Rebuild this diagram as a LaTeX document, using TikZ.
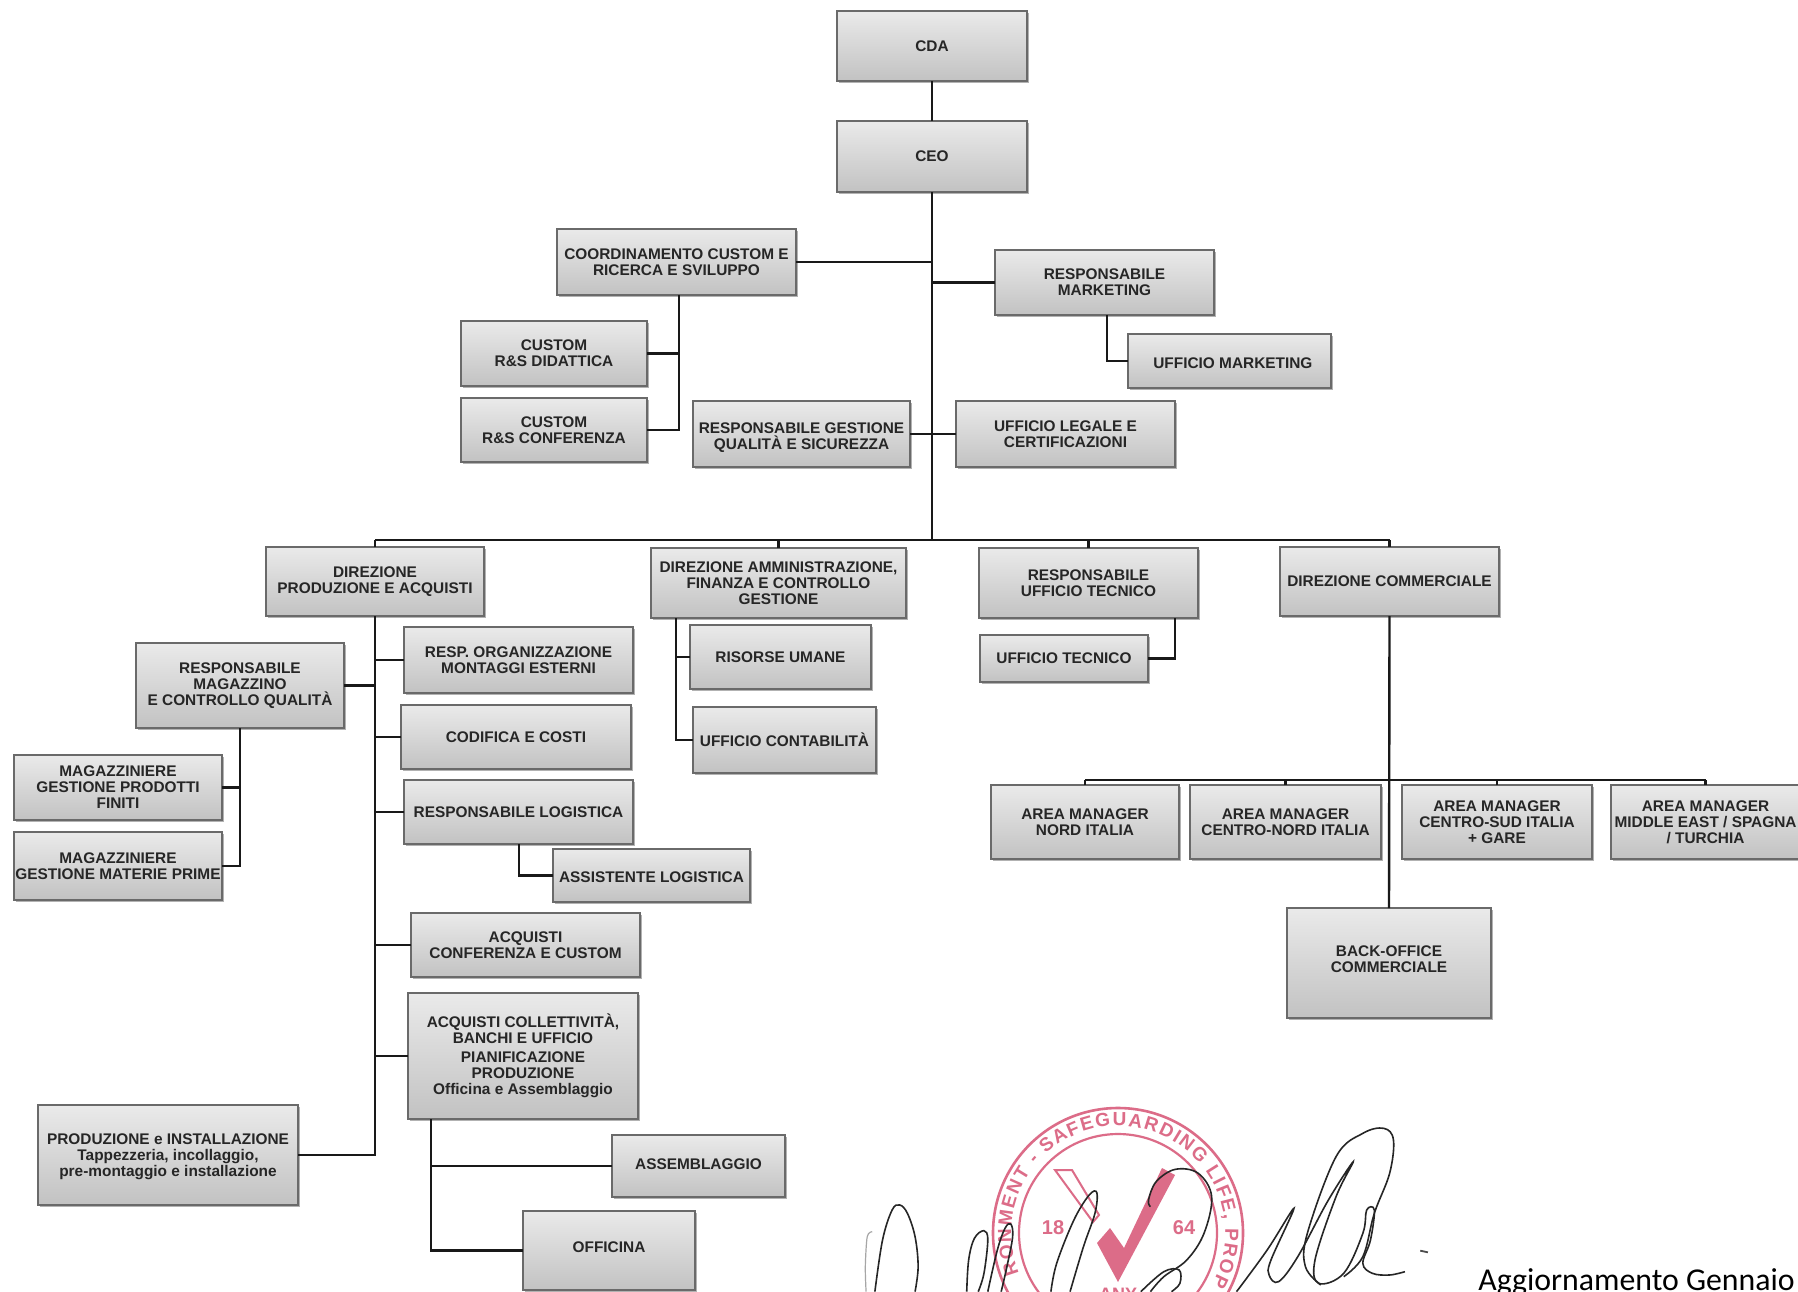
\documentclass[tikz,border=0pt]{standalone}
\usepackage{fontspec}
\setmainfont{Liberation Sans}
\newfontfamily\noteface{Carlito}
\usetikzlibrary{shadows,decorations.text,calc}
\definecolor{edgec}{HTML}{6A6A6A}
\definecolor{topc}{HTML}{EAEAEA}
\definecolor{botc}{HTML}{C2C2C2}
\definecolor{inkc}{HTML}{262626}
\definecolor{sealc}{HTML}{DC6C88}
\tikzset{
  orgbox/.style={draw=edgec,line width=1pt,top color=topc,bottom color=botc,inner sep=0pt,outer sep=0pt,
    align=center,text=inkc,font=\bfseries\fontsize{7.7}{8}\selectfont,
    drop shadow={shadow xshift=0.8pt,shadow yshift=-0.8pt,fill=black,opacity=.3}},
  link/.style={line width=1.2pt,draw=black!90},
  sign/.style={line width=0.8pt,draw=black!85,smooth,tension=0.6},
}
\newcommand{\bx}[6]{%
  \pgfmathsetmacro{\cxv}{(#2+#4)/2}\pgfmathsetmacro{\cyv}{(#3+#5)/2}%
  \pgfmathsetmacro{\wv}{(#4-#2)*0.5}\pgfmathsetmacro{\hv}{(#5-#3)*0.5}%
  \node[orgbox,minimum width=\wv pt,minimum height=\hv pt] (#1) at (\cxv,\cyv) {#6};}
\newcommand{\txtup}[1]{\rule[-#1pt]{0pt}{#1pt}}
\newcommand{\txtdn}[1]{\rule{0pt}{\dimexpr5.55pt+#1pt\relax}}
\begin{document}
\begin{tikzpicture}[x=0.5pt,y=-0.5pt]
\useasboundingbox (0,0) rectangle (1798,1291);
\clip (0,0) rectangle (1798,1291);
\fill[white] (0,0) rectangle (1798,1291);

% seal
\begin{scope}
\draw[sealc,line width=1.3pt] (1118,1233) circle [radius=125];
\draw[sealc,line width=1.1pt] (1118,1233) circle [radius=99];
\fill[sealc] (1162,1168) -- (1175,1175) -- (1118,1282) -- (1097,1243) -- (1110,1228) -- (1124,1248) -- cycle;
\draw[sealc,line width=1pt,fill=white] (1055,1170) -- (1072,1170) -- (1099,1215) -- (1093,1222) -- cycle;
\node[text=sealc,font=\bfseries\fontsize{10}{10}\selectfont] (yra) at (1053,1228) {18};
\node[text=sealc,font=\bfseries\fontsize{10}{10}\selectfont] (yrb) at (1184,1228) {64};
\node[text=sealc,font=\bfseries\fontsize{9}{9}\selectfont] (sealb) at (1118,1294) {ANY};
\path[decorate,decoration={text along path,text align={fit to path},
  text={|\bfseries\fontsize{9.5}{10}\selectfont\color{sealc}|RONMENT - SAFEGUARDING LIFE{,} PROP}}]
  (1019,1273) arc [start angle=-202,end angle=29,radius=107];
\end{scope}

% signature
\begin{scope}[shift={(850,1100)},xscale=0.3827,yscale=0.3333]
\draw[line width=0.6pt,draw=gray!70] plot[smooth] coordinates {(58,395)(45,410)(40,500)(42,575)};
\draw[sign] plot coordinates {(65,575)(85,420)(110,330)(130,315)(150,340)(170,410)(178,500)(170,575)};
\draw[sign] plot coordinates {(305,575)(310,480)(325,415)(350,392)(360,420)(350,520)(335,575)};
\draw[sign] plot coordinates {(360,575)(385,450)(405,385)(420,372)(425,410)(410,500)(395,575)};
\draw[sign] plot coordinates {(525,575)(540,490)(585,360)(625,285)(645,278)(640,340)(610,440)(575,575)};
\draw[sign] plot coordinates {(785,320)(780,300)(800,245)(850,208)(910,220)(945,290)(925,400)(880,480)(820,530)(785,575)};
\draw[sign] plot coordinates {(760,575)(820,515)(860,510)(862,550)(840,575)};
\draw[sign] plot coordinates {(1010,575)(1090,450)(1160,325)(1100,480)(1095,525)(1120,545)(1170,470)(1250,300)(1315,185)(1270,290)(1215,480)(1225,550)(1290,520)(1340,400)(1350,330)(1370,330)(1360,420)(1340,490)(1365,520)(1410,525)(1450,515)};
\draw[sign] plot coordinates {(1230,555)(1190,500)(1195,400)(1270,170)(1340,100)(1395,85)(1420,120)(1410,220)(1370,340)(1340,470)(1290,530)};
\draw[line width=0.9pt,draw=black!70] plot coordinates {(1490,452)(1510,457)};
\end{scope}

\bx{cda}{837}{11}{1027}{81}{CDA}
\bx{ceo}{837}{121}{1027}{192}{CEO}
\bx{coord}{557}{229}{796}{295}{COORDINAMENTO CUSTOM E\\RICERCA E SVILUPPO}
\bx{rmkt}{995}{250}{1214}{315}{RESPONSABILE\\MARKETING}
\bx{umkt}{1128}{334}{1331}{388}{\txtdn{2}\hspace*{3.4pt}UFFICIO MARKETING}
\bx{cdid}{461}{321}{647}{386}{CUSTOM\\R\&S DIDATTICA}
\bx{cconf}{461}{398}{647}{462}{CUSTOM\\R\&S CONFERENZA}
\bx{rqual}{693}{401}{910}{467}{\txtdn{3}RESPONSABILE GESTIONE\\QUALITÀ E SICUREZZA}
\bx{uleg}{956}{401}{1175}{467}{UFFICIO LEGALE E\\CERTIFICAZIONI}
\bx{dprod}{266}{547}{484}{616}{DIREZIONE\\PRODUZIONE E ACQUISTI}
\bx{damm}{651}{548}{906}{618}{DIREZIONE AMMINISTRAZIONE,\\FINANZA E CONTROLLO\\GESTIONE}
\bx{rtec}{979}{548}{1198}{618}{RESPONSABILE\\UFFICIO TECNICO}
\bx{dcomm}{1280}{547}{1499}{616}{DIREZIONE COMMERCIALE}
\bx{risu}{690}{625}{871}{689}{RISORSE UMANE}
\bx{ucont}{693}{707}{876}{773}{UFFICIO CONTABILITÀ}
\bx{utec}{980}{635}{1148}{682}{UFFICIO TECNICO}
\bx{rmag}{136}{643}{344}{728}{RESPONSABILE\\MAGAZZINO\\E CONTROLLO QUALITÀ}
\bx{rorg}{404}{627}{633}{693}{RESP. ORGANIZZAZIONE\\MONTAGGI ESTERNI}
\bx{codif}{401}{705}{631}{769}{CODIFICA E COSTI}
\bx{rlog}{404}{780}{633}{844}{RESPONSABILE LOGISTICA}
\bx{alog}{553}{849}{750}{902}{\txtdn{2}ASSISTENTE LOGISTICA}
\bx{aconf}{411}{913}{640}{977}{ACQUISTI\\CONFERENZA E CUSTOM}
\bx{acoll}{408}{993}{638}{1119}{ACQUISTI COLLETTIVITÀ,\\BANCHI E UFFICIO\\[1.5pt]PIANIFICAZIONE\\PRODUZIONE\\Officina e Assemblaggio}
\bx{mpf}{14}{755}{222}{820}{MAGAZZINIERE\\GESTIONE PRODOTTI\\FINITI}
\bx{mmp}{14}{832}{222}{900}{MAGAZZINIERE\\GESTIONE MATERIE PRIME}
\bx{pinst}{38}{1105}{298}{1205}{\txtdn{2}PRODUZIONE e INSTALLAZIONE\\Tappezzeria, incollaggio,\\pre-montaggio e installazione}
\bx{assem}{612}{1135}{785}{1197}{ASSEMBLAGGIO\txtup{2}}
\bx{offi}{523}{1211}{695}{1290}{OFFICINA\txtup{3}}
\bx{ama}{991}{785}{1179}{859}{AREA MANAGER\\NORD ITALIA}
\bx{amb}{1190}{785}{1381}{859}{AREA MANAGER\\CENTRO-NORD ITALIA}
\bx{amc}{1402}{785}{1592}{859}{AREA MANAGER\\CENTRO-SUD ITALIA\\+ GARE}
\bx{amd}{1611}{785}{1800}{859}{AREA MANAGER\\MIDDLE EAST / SPAGNA\\/ TURCHIA}
\bx{back}{1287}{908}{1491}{1018}{BACK-OFFICE\\COMMERCIALE\txtup{4}}

% helper coordinates for junction lines
\coordinate (bus) at (931,540);
\coordinate (cx) at (679,0);
\coordinate (mx) at (1107,0);
\coordinate (ax) at (676,0);
\coordinate (tx) at (1175,0);
\coordinate (rx) at (240,0);
\coordinate (lx) at (519,0);
\coordinate (ox) at (431,0);
\coordinate (cbus) at (1389,780);

\draw[link] (cda) -- (ceo);
\draw[link] (ceo.south) -- (ceo.south |- bus);
\draw[link] (coord.east) -- (coord.east -| ceo.south);
\draw[link] (rmkt.west) -- (rmkt.west -| ceo.south);
\draw[link] (rqual.east) -- (uleg.west);
\draw[link] (coord.south -| cx) |- (cconf.east);
\draw[link] (cdid.east) -- (cdid.east -| cx);
\draw[link] (rmkt.south -| mx) |- (umkt.west);

\draw[link] (dprod.north |- bus) -- (dcomm.north |- bus);
\draw[link] (dprod.north) -- (dprod.north |- bus);
\draw[link] (damm.north) -- (damm.north |- bus);
\draw[link] (rtec.north) -- (rtec.north |- bus);
\draw[link] (dcomm.north) -- (dcomm.north |- bus);

\draw[link] (dprod.south) |- (pinst.east);
\draw[link] (rmag.east) -- (rmag.east -| dprod.south);
\draw[link] (rorg.west) -- (rorg.west -| dprod.south);
\draw[link] (codif.west) -- (codif.west -| dprod.south);
\draw[link] (rlog.west) -- (rlog.west -| dprod.south);
\draw[link] (aconf.west) -- (aconf.west -| dprod.south);
\draw[link] (acoll.west) -- (acoll.west -| dprod.south);

\draw[link] (damm.south -| ax) |- (ucont.west);
\draw[link] (risu.west) -- (risu.west -| ax);
\draw[link] (rtec.south -| tx) |- (utec.east);

\draw[link] (rmag.south -| rx) |- (mmp.east);
\draw[link] (mpf.east) -- (mpf.east -| rx);
\draw[link] (rlog.south -| lx) |- (alog.west);
\draw[link] (acoll.south -| ox) |- (offi.west);
\draw[link] (assem.west) -- (assem.west -| ox);

\draw[link] (dcomm.south) -- (back.north);
\draw[link] (ama.north |- cbus) -- (amd.north |- cbus);
\draw[link] (ama.north) -- (ama.north |- cbus);
\draw[link] (amb.north) -- (amb.north |- cbus);
\draw[link] (amc.north) -- (amc.north |- cbus);
\draw[link] (amd.north) -- (amd.north |- cbus);

\node[anchor=base west,inner sep=0pt,font=\noteface\fontsize{15.9}{15.9}\selectfont] (note) at (1478,1290) {Aggiornamento Gennaio};
\end{tikzpicture}
\end{document}
